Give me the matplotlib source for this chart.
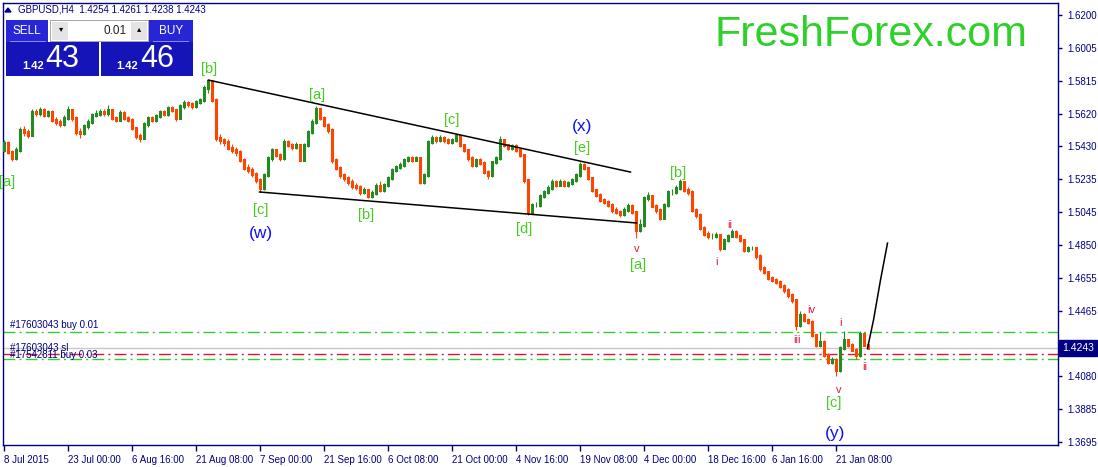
import matplotlib
matplotlib.use("Agg")
import matplotlib.pyplot as plt
import numpy as np
from matplotlib.patches import Rectangle, Polygon

W, H = 1098, 467

# GBPUSD H4, one candle per 4 bars
closes = [
    1.5448, 1.5396, 1.5360, 1.5407, 1.5525, 1.5513, 1.5495, 1.5630, 1.5625, 1.5642,
    1.5613, 1.5630, 1.5583, 1.5572, 1.5560, 1.5595, 1.5642, 1.5595, 1.5513, 1.5507,
    1.5548, 1.5572, 1.5613, 1.5619, 1.5630, 1.5625, 1.5642, 1.5595, 1.5583, 1.5625,
    1.5595, 1.5583, 1.5536, 1.5489, 1.5478, 1.5560, 1.5595, 1.5583, 1.5607, 1.5630,
    1.5619, 1.5654, 1.5642, 1.5595, 1.5666, 1.5683, 1.5677, 1.5666, 1.5689, 1.5701,
    1.5771, 1.5812, 1.5701, 1.5478, 1.5466, 1.5454, 1.5419, 1.5407, 1.5396, 1.5349,
    1.5302, 1.5290, 1.5266, 1.5231, 1.5184, 1.5260, 1.5360, 1.5407, 1.5378, 1.5360,
    1.5454, 1.5437, 1.5425, 1.5437, 1.5349, 1.5437, 1.5513, 1.5572, 1.5650, 1.5595,
    1.5554, 1.5525, 1.5349, 1.5302, 1.5260, 1.5243, 1.5219, 1.5196, 1.5190, 1.5161,
    1.5172, 1.5137, 1.5155, 1.5196, 1.5172, 1.5202, 1.5243, 1.5290, 1.5307, 1.5319,
    1.5349, 1.5360, 1.5349, 1.5360, 1.5219, 1.5260, 1.5454, 1.5478, 1.5466, 1.5478,
    1.5466, 1.5454, 1.5466, 1.5489, 1.5437, 1.5407, 1.5360, 1.5319, 1.5349, 1.5331,
    1.5278, 1.5260, 1.5337, 1.5360, 1.5466, 1.5437, 1.5419, 1.5431, 1.5407, 1.5378,
    1.5231, 1.5043, 1.5084, 1.5084, 1.5137, 1.5161, 1.5184, 1.5219, 1.5202, 1.5219,
    1.5202, 1.5213, 1.5231, 1.5260, 1.5319, 1.5302, 1.5243, 1.5172, 1.5143, 1.5114,
    1.5102, 1.5084, 1.5055, 1.5043, 1.5031, 1.5055, 1.5078, 1.5043, 1.4937, 1.4967,
    1.5125, 1.5137, 1.5078, 1.5055, 1.5008, 1.5084, 1.5161, 1.5161, 1.5184, 1.5219,
    1.5172, 1.5161, 1.5055, 1.5026, 1.4949, 1.4914, 1.4902, 1.4902, 1.4908, 1.4832,
    1.4879, 1.4902, 1.4926, 1.4902, 1.4879, 1.4820, 1.4832, 1.4832, 1.4785, 1.4714,
    1.4691, 1.4656, 1.4644, 1.4632, 1.4609, 1.4585, 1.4556, 1.4526, 1.4380, 1.4438,
    1.4409, 1.4397, 1.4321, 1.4262, 1.4280, 1.4203, 1.4162, 1.4174, 1.4115, 1.4245,
    1.4292, 1.4262, 1.4233, 1.4203, 1.4327, 1.4262, 1.4243,
]
highs = [
    1.5466, 1.5460, 1.5410, 1.5425, 1.5540, 1.5548, 1.5530, 1.5648, 1.5650, 1.5660,
    1.5655, 1.5645, 1.5640, 1.5600, 1.5590, 1.5615, 1.5665, 1.5650, 1.5605, 1.5535,
    1.5560, 1.5590, 1.5625, 1.5640, 1.5648, 1.5650, 1.5670, 1.5650, 1.5610, 1.5640,
    1.5635, 1.5610, 1.5595, 1.5545, 1.5510, 1.5570, 1.5610, 1.5605, 1.5620, 1.5645,
    1.5640, 1.5665, 1.5668, 1.5650, 1.5680, 1.5700, 1.5695, 1.5690, 1.5700, 1.5715,
    1.5790, 1.5820, 1.5815, 1.5710, 1.5500, 1.5480, 1.5470, 1.5440, 1.5425, 1.5410,
    1.5360, 1.5325, 1.5305, 1.5280, 1.5245, 1.5275, 1.5375, 1.5420, 1.5415, 1.5390,
    1.5470, 1.5465, 1.5450, 1.5455, 1.5445, 1.5450, 1.5525, 1.5590, 1.5665, 1.5655,
    1.5610, 1.5565, 1.5535, 1.5360, 1.5315, 1.5275, 1.5255, 1.5235, 1.5215, 1.5200,
    1.5190, 1.5180, 1.5170, 1.5215, 1.5225, 1.5215, 1.5255, 1.5300, 1.5320, 1.5335,
    1.5360, 1.5375, 1.5370, 1.5375, 1.5365, 1.5275, 1.5465, 1.5495, 1.5490, 1.5495,
    1.5490, 1.5480, 1.5480, 1.5505, 1.5495, 1.5445, 1.5415, 1.5370, 1.5360, 1.5360,
    1.5340, 1.5290, 1.5345, 1.5375, 1.5490, 1.5475, 1.5445, 1.5445, 1.5440, 1.5415,
    1.5385, 1.5240, 1.5095, 1.5100, 1.5150, 1.5175, 1.5200, 1.5235, 1.5230, 1.5235,
    1.5230, 1.5225, 1.5245, 1.5275, 1.5335, 1.5330, 1.5310, 1.5250, 1.5180, 1.5155,
    1.5125, 1.5115, 1.5095, 1.5070, 1.5055, 1.5070, 1.5095, 1.5090, 1.5050, 1.5000,
    1.5140, 1.5160, 1.5145, 1.5090, 1.5065, 1.5095, 1.5175, 1.5180, 1.5200, 1.5240,
    1.5225, 1.5190, 1.5170, 1.5065, 1.5035, 1.4960, 1.4930, 1.4920, 1.4925, 1.4915,
    1.4890, 1.4915, 1.4945, 1.4935, 1.4910, 1.4885, 1.4845, 1.4845, 1.4840, 1.4795,
    1.4725, 1.4700, 1.4670, 1.4655, 1.4645, 1.4620, 1.4600, 1.4570, 1.4535, 1.4460,
    1.4450, 1.4420, 1.4410, 1.4330, 1.4340, 1.4290, 1.4215, 1.4190, 1.4185, 1.4255,
    1.4345, 1.4300, 1.4275, 1.4245, 1.4345, 1.4335, 1.4261,
]
lows = [
    1.5395, 1.5385, 1.5340, 1.5350, 1.5395, 1.5490, 1.5480, 1.5488, 1.5605, 1.5610,
    1.5600, 1.5600, 1.5570, 1.5555, 1.5545, 1.5550, 1.5585, 1.5580, 1.5495, 1.5480,
    1.5495, 1.5530, 1.5560, 1.5600, 1.5605, 1.5608, 1.5610, 1.5585, 1.5570, 1.5575,
    1.5585, 1.5570, 1.5525, 1.5470, 1.5455, 1.5470, 1.5545, 1.5570, 1.5570, 1.5595,
    1.5605, 1.5610, 1.5630, 1.5580, 1.5590, 1.5650, 1.5660, 1.5650, 1.5655, 1.5675,
    1.5690, 1.5740, 1.5690, 1.5460, 1.5440, 1.5430, 1.5405, 1.5390, 1.5375, 1.5335,
    1.5290, 1.5270, 1.5250, 1.5215, 1.5160, 1.5175, 1.5250, 1.5345, 1.5365, 1.5340,
    1.5350, 1.5425, 1.5410, 1.5415, 1.5340, 1.5340, 1.5425, 1.5500, 1.5560, 1.5585,
    1.5540, 1.5510, 1.5330, 1.5290, 1.5245, 1.5225, 1.5200, 1.5180, 1.5170, 1.5145,
    1.5150, 1.5125, 1.5125, 1.5145, 1.5160, 1.5160, 1.5190, 1.5230, 1.5280, 1.5295,
    1.5310, 1.5335, 1.5335, 1.5340, 1.5205, 1.5210, 1.5250, 1.5440, 1.5450, 1.5455,
    1.5450, 1.5440, 1.5445, 1.5455, 1.5425, 1.5395, 1.5345, 1.5305, 1.5310, 1.5320,
    1.5265, 1.5240, 1.5250, 1.5325, 1.5350, 1.5425, 1.5405, 1.5410, 1.5395, 1.5365,
    1.5215, 1.5025, 1.5035, 1.5070, 1.5075, 1.5125, 1.5150, 1.5170, 1.5190, 1.5195,
    1.5190, 1.5190, 1.5200, 1.5220, 1.5250, 1.5290, 1.5230, 1.5160, 1.5130, 1.5100,
    1.5090, 1.5070, 1.5040, 1.5030, 1.5015, 1.5020, 1.5045, 1.5030, 1.4890, 1.4925,
    1.4955, 1.5110, 1.5070, 1.5040, 1.4995, 1.5000, 1.5075, 1.5145, 1.5150, 1.5175,
    1.5160, 1.5145, 1.5045, 1.5010, 1.4935, 1.4900, 1.4885, 1.4885, 1.4890, 1.4815,
    1.4825, 1.4865, 1.4895, 1.4890, 1.4870, 1.4810, 1.4810, 1.4820, 1.4770, 1.4700,
    1.4680, 1.4645, 1.4630, 1.4620, 1.4595, 1.4570, 1.4540, 1.4510, 1.4350, 1.4370,
    1.4395, 1.4385, 1.4310, 1.4250, 1.4250, 1.4190, 1.4150, 1.4150, 1.4078, 1.4105,
    1.4235, 1.4250, 1.4225, 1.4180, 1.4195, 1.4255, 1.4238,
]
first_open = 1.5407
bars_per_candle = 4

xtick_labels = ["8 Jul 2015", "23 Jul 00:00", "6 Aug 16:00", "21 Aug 08:00", "7 Sep 00:00",
                "21 Sep 16:00", "6 Oct 08:00", "21 Oct 00:00", "4 Nov 16:00", "19 Nov 08:00",
                "4 Dec 00:00", "18 Dec 16:00", "6 Jan 16:00", "21 Jan 08:00"]
ytick_vals = [1.6200, 1.6005, 1.5815, 1.5620, 1.5430, 1.5235, 1.5045, 1.4850,
              1.4655, 1.4465, 1.4270, 1.4080, 1.3885, 1.3695]

# wedge lines and projection (bar index, price)
upper_line = [(205, 1.5818), (627, 1.5278)]
lower_line = [(256, 1.5161), (633, 1.4979)]
projection = [(864, 1.4243), (870, 1.4409), (877, 1.4644), (884, 1.4861)]

# order levels
buy1_level = 1.4337
bid_level = 1.4243
sl_level = 1.4208
buy2_level = 1.4178

# wave labels: text, bar, price, kind
wave_labels = [
    ("[a]", 12, 1.5219, "major"), ("[b]", 206, 1.5883, "major"), ("[a]", 314, 1.5730, "major"),
    ("[c]", 257, 1.5055, "major"), ("(w)", 257, 1.4920, "blue"), ("[b]", 363, 1.5026, "major"),
    ("[c]", 448, 1.5583, "major"), ("[d]", 521, 1.4943, "major"), ("(x)", 579, 1.5548, "blue"),
    ("[e]", 579, 1.5419, "major"), ("v", 633, 1.4826, "minor"), ("[a]", 635, 1.4732, "major"),
    ("[b]", 675, 1.5272, "major"), ("ii", 726, 1.4967, "minor"), ("i", 713, 1.4750, "minor"),
    ("iv", 808, 1.4468, "minor"), ("iii", 793, 1.4292, "minor"), ("i", 837, 1.4392, "minor"),
    ("ii", 861, 1.4133, "minor"), ("v", 835, 1.3998, "minor"), ("[c]", 830, 1.3922, "major"),
    ("(y)", 832, 1.3746, "blue"),
]

NAVY = "#000080"
UP = "#228B22"
DOWN = "#FF4500"

plt.rcParams['font.family'] = ['Liberation Sans', 'DejaVu Sans']

fig = plt.figure(figsize=(W / 100, H / 100), dpi=100)
fig.patch.set_facecolor("white")
ax = fig.add_axes([3 / W, (H - 445) / H, (1058 - 3) / W, (445 - 3) / H])

closes = np.array(closes)
opens = np.concatenate([[first_open], closes[:-1]])
xs = np.arange(len(closes)) * bars_per_candle
cols = [UP if c >= o else DOWN for o, c in zip(opens, closes)]
ax.vlines(xs, lows, highs, colors=cols, linewidth=0.8, zorder=3)
ax.vlines(xs, np.minimum(opens, closes), np.maximum(opens, closes), colors=cols,
          linewidth=2.2, capstyle="projecting", zorder=3)

# wedge
for line in (upper_line, lower_line):
    ax.plot([p[0] for p in line], [p[1] for p in line], color="black", lw=1.1, zorder=4)
ax.plot([p[0] for p in projection], [p[1] for p in projection], color="black", lw=1.1, zorder=4)

dd = (0, (8.5, 3, 1.5, 3))
ax.axhline(buy1_level, color="#32CD32", lw=1, ls=dd, zorder=2)
ax.axhline(bid_level, color="#C8C8C8", lw=1, zorder=2)
ax.axhline(sl_level, color="#DC143C", lw=1, ls=dd, zorder=2)
ax.axhline(buy2_level, color="#32CD32", lw=1, ls=dd, zorder=2)

ax.text(7, buy1_level + 0.0012, "#17603043 buy 0.01", color=NAVY, fontsize=7, va="bottom", zorder=5)
ax.text(7, bid_level, "#17603043 sl", color=NAVY, fontsize=7, va="center", zorder=5)
ax.text(7, sl_level - 0.0004, "#17542811 buy 0.03", color=NAVY, fontsize=7, va="center", zorder=5)

styles = {
    "major": dict(color="#44CC22", fontsize=10.5),
    "minor": dict(color="#E8173C", fontsize=8),
    "blue": dict(color="#1010EE", fontsize=12.5),
}
for txt, b, p, kind in wave_labels:
    ha = "right" if b < 20 else "center"
    ax.text(b, p, txt, ha=ha, va="center", zorder=5, **styles[kind])

ax.set_xlim(-0.5, 1054.5)
ax.set_ylim(1.36756, 1.62705)

ax.set_xticks(np.arange(len(xtick_labels)) * 64)
ax.set_xticklabels(xtick_labels, ha="left")
ax.yaxis.tick_right()
ax.set_yticks(ytick_vals)
ax.set_yticklabels([f"{v:.4f}" for v in ytick_vals])
ax.tick_params(axis="both", direction="out", colors=NAVY, labelcolor=NAVY, labelsize=7, width=1)
ax.tick_params(axis="y", length=3, pad=4)
ax.tick_params(axis="x", length=4, pad=3)
for s in ax.spines.values():
    s.set_color(NAVY)
    s.set_linewidth(1)


def fx(x):
    return x / W


def fy(y):
    return 1 - y / H


def rect(x0, y0, x1, y1, fc, ec="none", lw=0):
    fig.patches.append(Rectangle((fx(x0), fy(y1)), fx(x1) - fx(x0), fy(y0) - fy(y1),
                                 transform=fig.transFigure, facecolor=fc, edgecolor=ec,
                                 linewidth=lw, zorder=5))


# current price box on the scale
fig.text(fx(1078), fy(348), "1.4243", color="white", fontsize=7.5, ha="center", va="center",
         zorder=10, bbox=dict(boxstyle="square,pad=0.25", fc=NAVY, ec=NAVY))

# header
fig.patches.append(Polygon([(fx(5), fy(12)), (fx(11), fy(12)), (fx(8), fy(8))],
                           closed=True, transform=fig.transFigure, fc=NAVY, ec=NAVY, zorder=5))
fig.text(fx(18), fy(10), "GBPUSD,H4  1.4254 1.4261 1.4238 1.4243", color=NAVY, fontsize=7,
         va="center", zorder=6)

# trade panel
rect(6, 20, 48, 42, "#2626D8")
rect(149, 20, 193, 42, "#2626D8")
rect(6, 42, 99, 76, "#1414B8")
rect(101, 42, 193, 76, "#1414B8")
rect(50, 20, 149, 42, "#A8A8A8")
rect(51, 21, 148, 41, "white")
rect(52, 22, 68, 40, "#E4E4E4")
rect(131, 22, 147, 40, "#E4E4E4")
rect(10, 41, 46, 42, "#8888EE")
rect(153, 41, 189, 42, "#8888EE")
fig.text(fx(27), fy(31), "SELL", color="white", fontsize=8.5, ha="center", va="center", zorder=6)
fig.text(fx(171), fy(31), "BUY", color="white", fontsize=8.5, ha="center", va="center", zorder=6)
fig.text(fx(127), fy(31), "0.01", color="#202020", fontsize=8.5, ha="right", va="center", zorder=6)
fig.text(fx(61), fy(30), "\u25BE", color="black", fontsize=6, ha="center", va="center", zorder=6)
fig.text(fx(139), fy(30), "\u25B4", color="black", fontsize=6, ha="center", va="center", zorder=6)
fig.text(fx(33), fy(66), "1.42", color="white", fontsize=8, fontweight="bold", ha="center", va="center", zorder=6)
fig.text(fx(62), fy(59), "43", color="white", fontsize=22, ha="center", va="center", zorder=6)
fig.text(fx(127), fy(66), "1.42", color="white", fontsize=8, fontweight="bold", ha="center", va="center", zorder=6)
fig.text(fx(157), fy(59), "46", color="white", fontsize=22, ha="center", va="center", zorder=6)

fig.text(fx(871), fy(35), "FreshForex.com", color="#2ED12A", fontsize=31, ha="center", va="center", zorder=6)

fig.savefig("out.png", dpi=100, facecolor="white")
